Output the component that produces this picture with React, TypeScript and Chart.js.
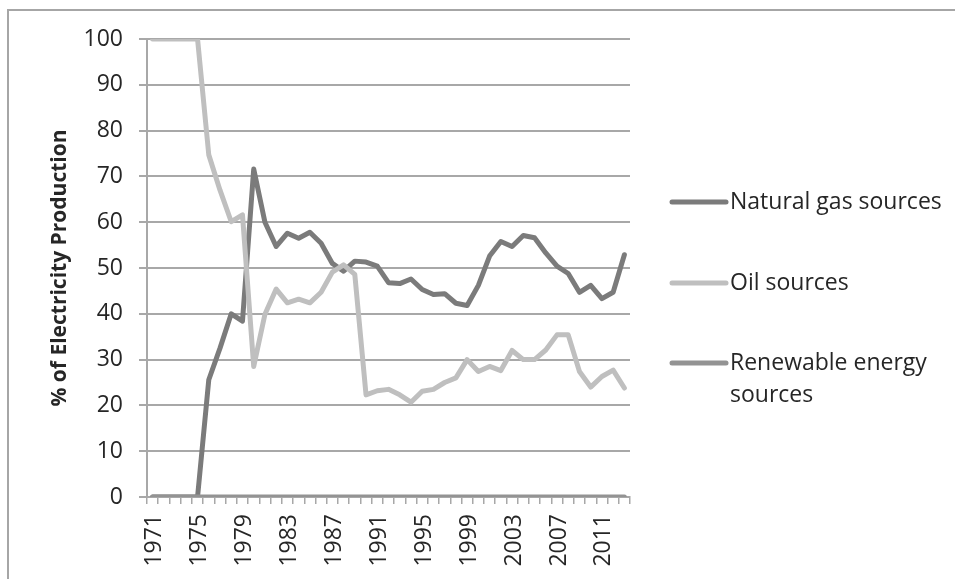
import React, { useEffect, useRef } from "react";
import { Chart, registerables } from "chart.js";

Chart.register(...registerables);

const years: string[] = [
  "1971", "1972", "1973", "1974", "1975", "1976", "1977", "1978", "1979", "1980",
  "1981", "1982", "1983", "1984", "1985", "1986", "1987", "1988", "1989", "1990",
  "1991", "1992", "1993", "1994", "1995", "1996", "1997", "1998", "1999", "2000",
  "2001", "2002", "2003", "2004", "2005", "2006", "2007", "2008", "2009", "2010",
  "2011", "2012", "2013",
];

const naturalGas: number[] = [
  0, 0, 0, 0, 0, 25.6, 32.5, 40, 38.4, 71.6,
  60, 54.7, 57.6, 56.5, 57.8, 55.4, 51, 49.3, 51.5, 51.3,
  50.4, 46.8, 46.6, 47.6, 45.3, 44.2, 44.4, 42.3, 41.8, 46.2,
  52.6, 55.8, 54.7, 57.1, 56.6, 53.3, 50.4, 48.8, 44.7, 46.2,
  43.3, 44.7, 52.9,
];

const oil: number[] = [
  100, 100, 100, 100, 100, 74.7, 67, 60.1, 61.6, 28.5,
  39.9, 45.4, 42.4, 43.2, 42.4, 44.7, 49.1, 50.7, 48.6, 22.3,
  23.2, 23.5, 22.3, 20.7, 23.1, 23.5, 25, 26, 30, 27.4,
  28.5, 27.6, 32, 30, 30, 32.1, 35.4, 35.4, 27.4, 24,
  26.3, 27.7, 23.8,
];

const renewable: number[] = [
  0, 0, 0, 0, 0, 0, 0, 0, 0, 0,
  0, 0, 0, 0, 0, 0, 0, 0, 0, 0,
  0, 0, 0, 0, 0, 0, 0, 0, 0, 0,
  0, 0, 0, 0, 0, 0, 0, 0, 0, 0,
  0, 0, 0,
];

const seriesNames: string[][] = [
  ["Natural gas sources"],
  ["Oil sources"],
  ["Renewable energy", "sources"],
];

const GAS_COLOR = "#7b7b7b";
const OIL_COLOR = "#bfbfbf";
const REN_COLOR = "#939393";
const GRID_COLOR = "#a8a8a8";
const TEXT_COLOR = "#262626";
const FONT = "'Open Sans', 'DejaVu Sans', sans-serif";

const legendPlugin = {
  id: "customLegend",
  afterDraw(chart: any) {
    const ctx = chart.ctx as CanvasRenderingContext2D;
    const colors = [GAS_COLOR, OIL_COLOR, REN_COLOR];
    const ys = [202, 283, 363];
    ctx.save();
    ctx.font = `23px ${FONT}`;
    ctx.textBaseline = "middle";
    ctx.textAlign = "left";
    seriesNames.forEach((lines, i) => {
      const y = ys[i];
      ctx.strokeStyle = colors[i];
      ctx.lineWidth = 5;
      ctx.lineCap = "round";
      ctx.beginPath();
      ctx.moveTo(672, y);
      ctx.lineTo(726, y);
      ctx.stroke();
      ctx.fillStyle = TEXT_COLOR;
      lines.forEach((t, j) => {
        ctx.fillText(t, 730, y + j * 32);
      });
    });
    ctx.restore();
  },
};

export default function App() {
  const canvasRef = useRef<HTMLCanvasElement | null>(null);

  useEffect(() => {
    const canvas = canvasRef.current;
    if (!canvas) return;
    const lineStyle = {
      borderWidth: 5,
      pointRadius: 0,
      pointHoverRadius: 0,
      borderJoinStyle: "round" as const,
      borderCapStyle: "round" as const,
      tension: 0,
      fill: false,
    };
    const chart = new Chart(canvas, {
      type: "line",
      data: {
        labels: years,
        datasets: [
          { label: "Natural gas sources", data: naturalGas, borderColor: GAS_COLOR, backgroundColor: GAS_COLOR, order: 2, ...lineStyle },
          { label: "Oil sources", data: oil, borderColor: OIL_COLOR, backgroundColor: OIL_COLOR, order: 1, ...lineStyle },
          { label: "Renewable energy sources", data: renewable, borderColor: REN_COLOR, backgroundColor: REN_COLOR, order: 0, ...lineStyle },
        ],
      },
      options: {
        animation: false,
        responsive: false,
        devicePixelRatio: 1,
        layout: { padding: { top: 39, right: 325, left: 0, bottom: 0 } },
        plugins: {
          legend: { display: false },
          tooltip: { enabled: false },
        },
        scales: {
          x: {
            type: "category",
            offset: true,
            afterFit: (scale: any) => {
              scale.height = 82;
            },
            grid: {
              offset: true,
              drawOnChartArea: false,
              drawTicks: true,
              tickLength: 7,
              color: GRID_COLOR,
              lineWidth: 1.5,
            },
            border: { display: true, color: GRID_COLOR, width: 2 },
            ticks: {
              autoSkip: false,
              minRotation: 90,
              maxRotation: 90,
              padding: 10,
              labelOffset: 2,
              color: TEXT_COLOR,
              font: { family: FONT, size: 23 },
              callback: (_v: any, i: number) => (i % 4 === 0 ? years[i] : ""),
            },
          },
          y: {
            min: 0,
            max: 100,
            afterFit: (scale: any) => {
              scale.width = 147;
            },
            grid: {
              color: GRID_COLOR,
              lineWidth: 2,
              tickLength: 8,
              drawTicks: true,
            },
            border: { display: true, color: GRID_COLOR, width: 2 },
            ticks: {
              stepSize: 10,
              padding: 16,
              color: TEXT_COLOR,
              font: { family: FONT, size: 23 },
            },
            title: {
              display: true,
              text: "% of Electricity Production",
              color: TEXT_COLOR,
              font: { family: FONT, size: 21, weight: "bold" },
              padding: { top: 47, bottom: 0 },
            },
          },
        },
      },
      plugins: [legendPlugin],
    });
    return () => chart.destroy();
  }, []);

  return (
    <div>
      <canvas
        ref={canvasRef}
        width={955}
        height={579}
        style={{ position: "absolute", left: 0, top: 0, width: 955, height: 579 }}
      />
      <div
        style={{
          position: "absolute",
          left: 7,
          top: 9,
          width: 948,
          height: 570,
          boxSizing: "border-box",
          borderTop: "2px solid #a6a6a6",
          borderLeft: "2px solid #a6a6a6",
          pointerEvents: "none",
        }}
      />
    </div>
  );
}
